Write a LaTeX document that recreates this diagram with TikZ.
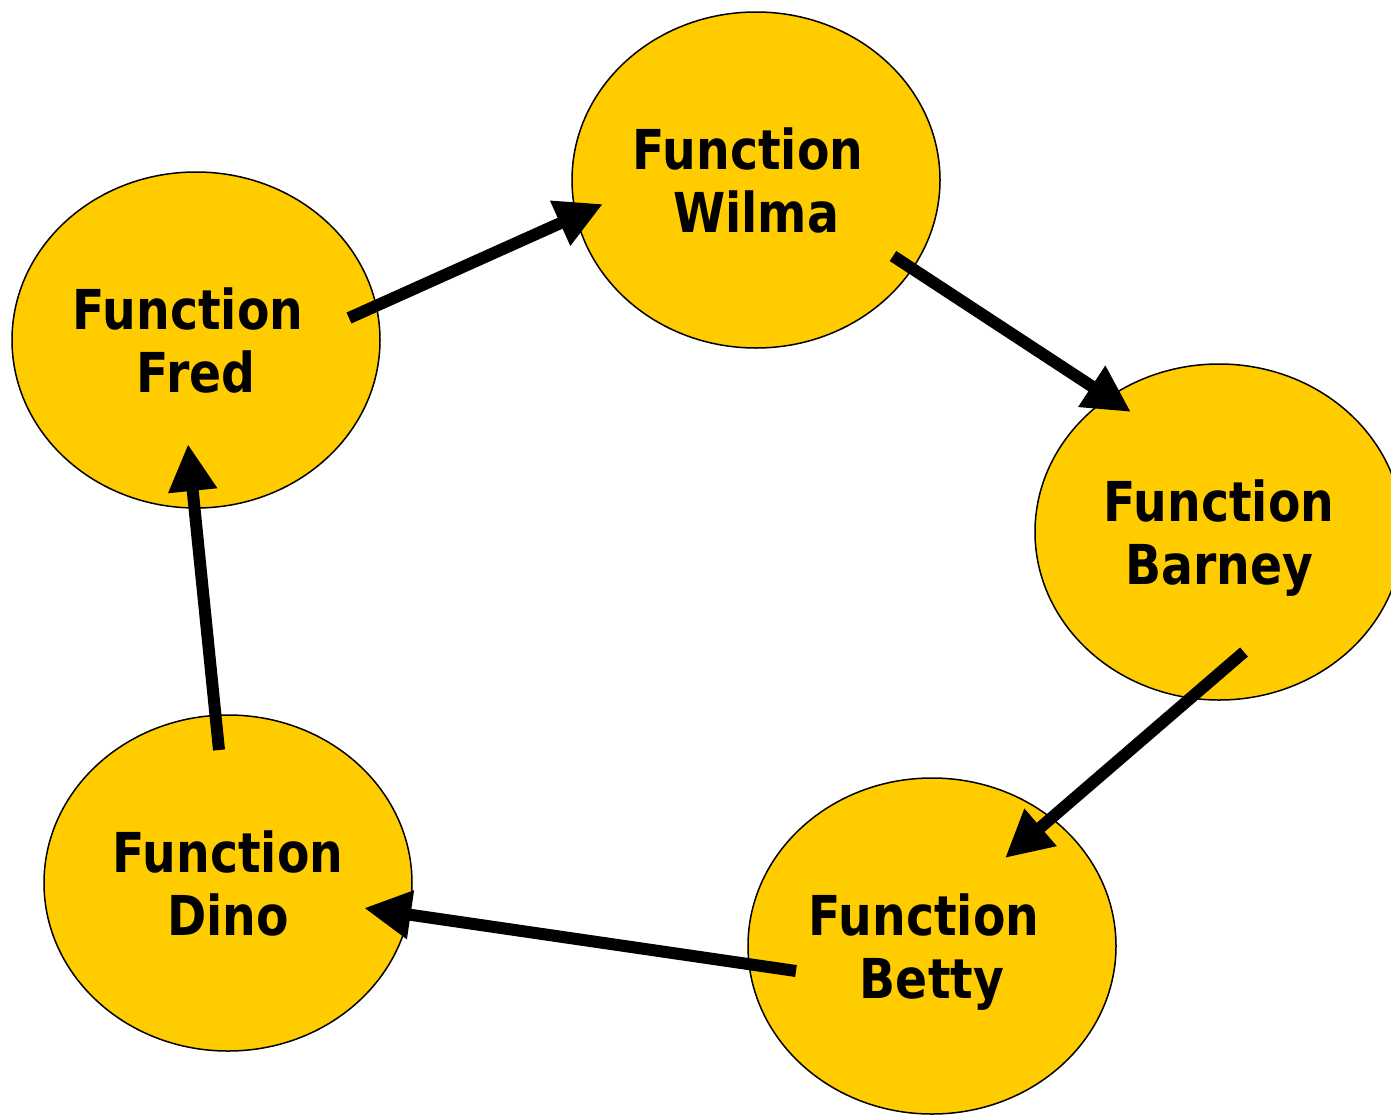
\documentclass[tikz,border=0pt]{standalone}
\usepackage{fontspec}
\setmainfont{DejaVu Sans}[FakeStretch=0.86]
\usetikzlibrary{shapes.geometric,arrows.meta,calc}
\definecolor{fnfill}{RGB}{255,204,0}
% two-line label; the optional argument pads the first line on the right
\newcommand{\fnlabel}[2][0pt]{Function\kern#1\\#2}
\tikzset{
  fnnode/.style={ellipse, draw=black, line width=1.5pt, fill=fnfill,
    minimum width=368pt, minimum height=336pt, inner sep=0pt,
    text depth=0pt,
    align=center, font=\fontsize{55}{63}\selectfont\bfseries},
  flow/.style={line width=12pt, line cap=butt,
    -{Triangle[length=47pt,width=46pt]}}
}
\begin{document}
\begin{tikzpicture}[x=1pt,y=-1pt]
  \useasboundingbox (0,0) rectangle (1391,1114);
  % function nodes
  \node[fnnode] (wilma)  at (756,180)  {\fnlabel[16pt]{Wilma}};
  \node[fnnode] (fred)   at (196,340)  {\fnlabel[16pt]{Fred}};
  \node[fnnode] (barney) at (1219,532) {\fnlabel{Barney}};
  \node[fnnode] (betty)  at (932,946)  {\fnlabel[16pt]{Betty}};
  \node[fnnode] (dino)   at (228,883)  {\fnlabel{Dino}};
  % connector end points
  \coordinate (fredOut)   at ($(fred.center)+(153,-22)$);
  \coordinate (wilmaIn)   at ($(wilma.center)+(-153,24)$);
  \coordinate (wilmaOut)  at ($(wilma.center)+(137,76)$);
  \coordinate (barneyIn)  at ($(barney.center)+(-88,-120)$);
  \coordinate (barneyOut) at ($(barney.center)+(25,120)$);
  \coordinate (bettyIn)   at ($(betty.center)+(73,-88)$);
  \coordinate (bettyOut)  at ($(betty.center)+(-136,25)$);
  \coordinate (dinoIn)    at ($(dino.center)+(136,25)$);
  \coordinate (dinoOut)   at ($(dino.center)+(-9,-133)$);
  \coordinate (fredIn)    at ($(fred.center)+(-8,104)$);
  % cycle of calls
  \draw[flow] (fredOut)   -- (wilmaIn);
  \draw[flow] (wilmaOut)  -- (barneyIn);
  \draw[flow] (barneyOut) -- (bettyIn);
  \draw[flow] (bettyOut)  -- (dinoIn);
  \draw[flow] (dinoOut)   -- (fredIn);
\end{tikzpicture}
\end{document}
